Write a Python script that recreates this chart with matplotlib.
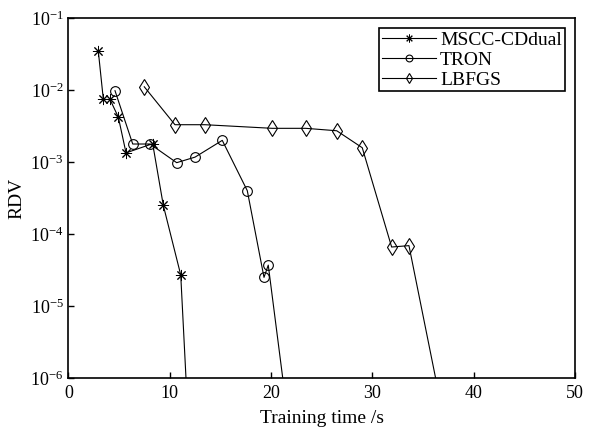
import numpy as np
import matplotlib
matplotlib.use("Agg")
import matplotlib.pyplot as plt
from matplotlib.ticker import LogLocator, NullLocator

plt.rcParams['font.family'] = ['Liberation Serif', 'DejaVu Serif']
plt.rcParams['mathtext.fontset'] = 'custom'
plt.rcParams['mathtext.rm'] = 'Liberation Serif'
plt.rcParams['mathtext.it'] = 'Liberation Serif:italic'

# values (last point of each run lies below the axis)
mscc_t = [2.94, 3.44, 4.10, 4.92, 5.68, 8.31, 9.36, 11.08, 11.96]
mscc_v = [3.5e-2, 7.4e-3, 7.4e-3, 4.2e-3, 1.34e-3, 1.8e-3, 2.5e-4, 2.7e-5, 1e-7]

tron_t = [4.59, 6.34, 8.05, 10.68, 12.49, 15.18, 17.65, 19.30, 19.72, 22.06]
tron_v = [9.8e-3, 1.78e-3, 1.78e-3, 9.8e-4, 1.17e-3, 2.0e-3, 4.0e-4, 2.5e-5, 3.7e-5, 1e-7]

lbfgs_t = [7.48, 10.51, 13.47, 20.12, 23.42, 26.48, 29.0, 31.9, 33.61, 37.67]
lbfgs_v = [1.11e-2, 3.3e-3, 3.3e-3, 2.94e-3, 2.94e-3, 2.72e-3, 1.58e-3, 6.6e-5, 6.9e-5, 1e-7]

fig = plt.figure(figsize=(5.91, 4.28), dpi=100)
ax = fig.add_axes([0.1159, 0.1168, 0.857, 0.841])

ax.plot(mscc_t, mscc_v, color='k', lw=0.8, marker=(8, 2, 0), ms=8,
        mew=0.7, label='MSCC-CDdual')
ax.plot(tron_t, tron_v, color='k', lw=0.8, marker='o', ms=7,
        mfc='none', mew=0.8, label='TRON')
ax.plot(lbfgs_t, lbfgs_v, color='k', lw=0.8, marker='d', ms=8,
        mfc='none', mew=0.8, label='LBFGS')

ax.set_yscale('log')
ax.set_xlim(0, 50)
ax.set_ylim(1e-6, 1e-1)
ax.set_xticks(np.arange(0, 51, 10))
ax.yaxis.set_major_locator(LogLocator(base=10, numticks=10))
ax.yaxis.set_minor_locator(NullLocator())
ax.tick_params(direction='in', labelsize=13, length=4, width=1)
ax.tick_params(axis='x', pad=5)
for s in ax.spines.values():
    s.set_linewidth(1.2)

ax.set_xlabel('Training time /s', fontsize=14)
ax.set_ylabel('RDV', fontsize=14)
ax.xaxis.set_label_coords(0.5, -0.088)
ax.yaxis.set_label_coords(-0.086, 0.5)

leg = ax.legend(loc='upper right', bbox_to_anchor=(0.980, 0.972),
                borderaxespad=0, fontsize=14, fancybox=False,
                edgecolor='k', framealpha=1, handlelength=2.8,
                borderpad=0.15, labelspacing=0.12, handletextpad=0.2,
                markerscale=0.7)
leg.get_frame().set_linewidth(1.2)

fig.savefig('out.png', dpi=100)
